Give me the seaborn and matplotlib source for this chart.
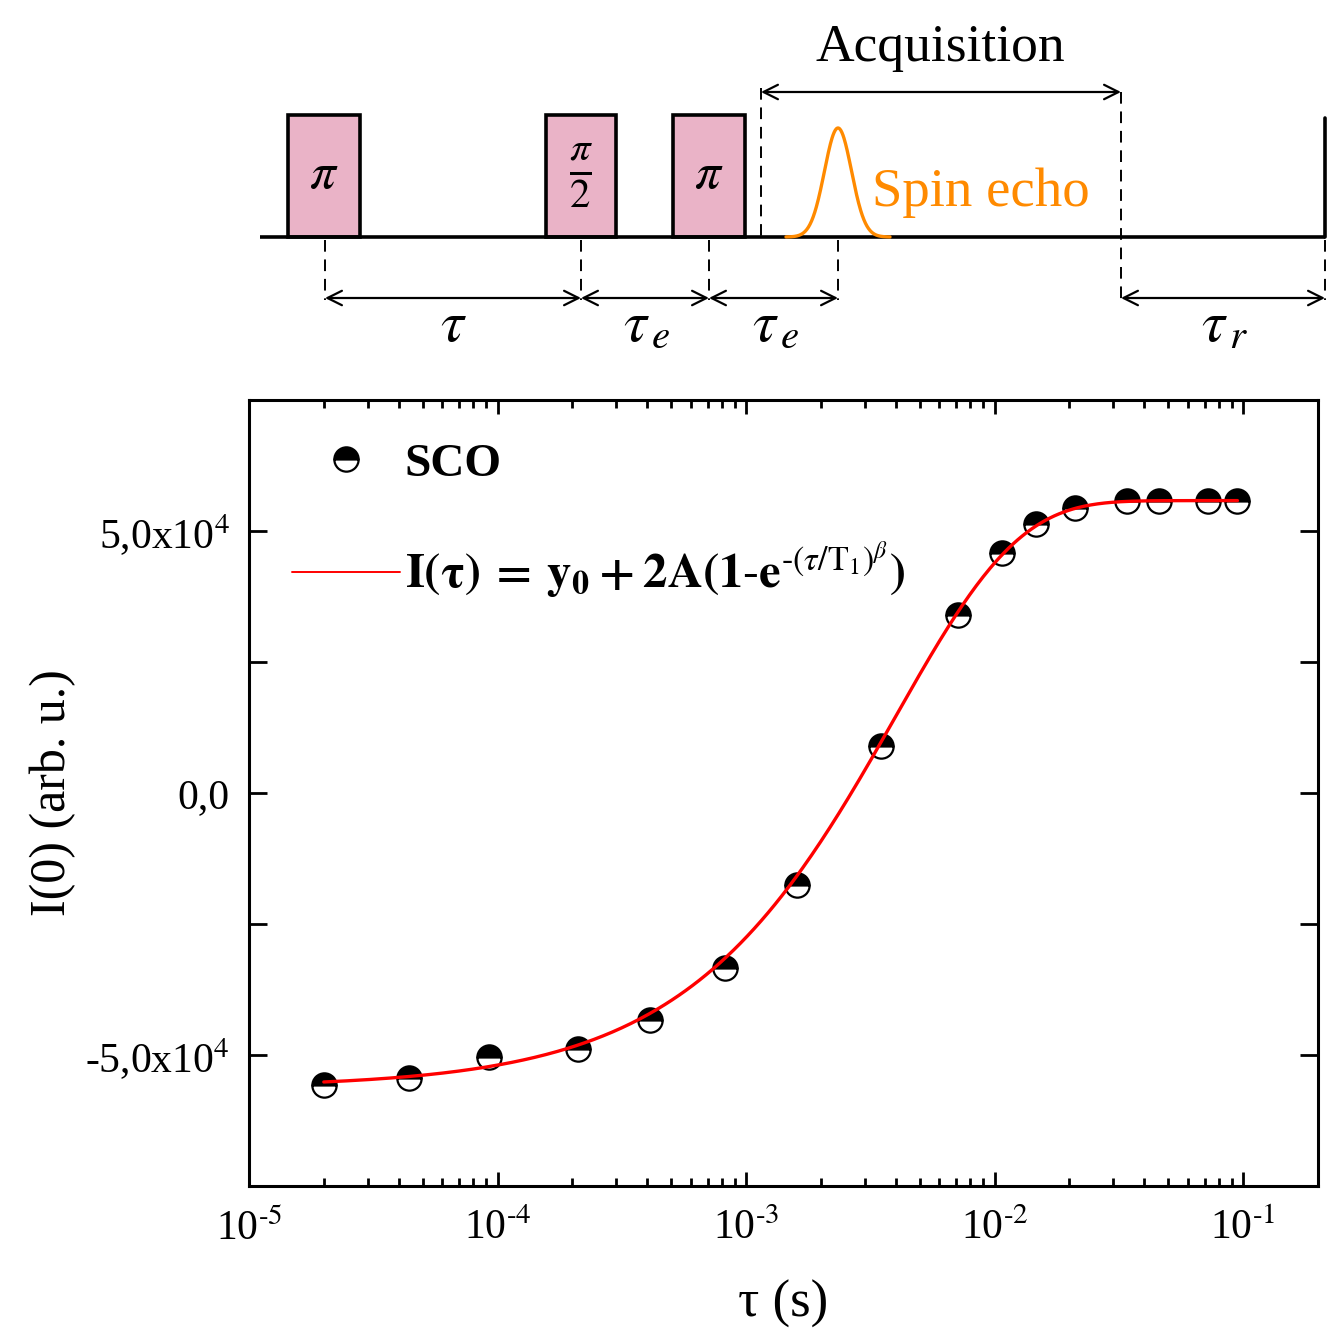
import numpy as np
import pandas as pd
import matplotlib
matplotlib.use("Agg")
import matplotlib.pyplot as plt
from matplotlib.patches import Rectangle
from matplotlib.ticker import FixedLocator, LogLocator, NullFormatter
import seaborn as sns

# ---- measured inversion-recovery data (SCO) ----
tau_s = [2.0e-5, 4.4e-5, 9.2e-5, 2.1e-4, 4.1e-4, 8.2e-4, 1.6e-3, 3.5e-3,
         7.1e-3, 1.07e-2, 1.47e-2, 2.1e-2, 3.4e-2, 4.6e-2, 7.2e-2, 9.5e-2]
intensity = [-55700, -54400, -50400, -48900, -43300, -33400, -17600, 9000,
             34000, 45800, 51300, 54400, 55700, 55700, 55800, 55800]

# ---- stretched-exponential fit parameters ----
fit_y0 = -56200.0
fit_A = 56000.0
fit_T1 = 4.0e-3
fit_beta = 0.88

# ---- axis ticks ----
x_ticks = [1e-5, 1e-4, 1e-3, 1e-2, 1e-1]
x_tick_labels = [r"10$^{\text{-}5}$", r"10$^{\text{-}4}$", r"10$^{\text{-}3}$",
                 r"10$^{\text{-}2}$", r"10$^{\text{-}1}$"]
y_ticks = [-5e4, 0, 5e4]
y_tick_labels = [r"-5,0x10$^{4}$", "0,0", r"5,0x10$^{4}$"]
y_minor_ticks = [-7.5e4, -2.5e4, 2.5e4, 7.5e4]

sns.set_style("ticks")
plt.rcParams["font.family"] = ["Liberation Serif", "DejaVu Serif"]
plt.rcParams["mathtext.fontset"] = "stix"
for key in ["text.color", "axes.labelcolor", "xtick.color", "ytick.color",
            "axes.edgecolor"]:
    plt.rcParams[key] = "black"

fig = plt.figure(figsize=(13.29, 13.30), dpi=100)
W, H = 1329, 1330

# =================== pulse-sequence schematic ===================
sch = fig.add_axes([0, 1 - 370 / H, 1, 370 / H])
sch.set_xlim(0, W)
sch.set_ylim(370, 0)
sch.axis("off")

pink = "#EAB3C7"
orange = "#FF8A00"
base_y = 237
pulse_top = 115
pulse_left = [288, 546, 673]
pulse_right = [360, 616, 745]
pulse_text = [r"$\pi$", r"$\frac{\pi}{2}$", r"$\pi$"]
pulse_mid = [325, 581, 709]
echo_mid = 838
acq_start, acq_end = 761, 1121
next_pulse = 1325

sch.plot([260, next_pulse], [base_y, base_y], color="black", lw=2.6,
         solid_capstyle="butt", zorder=3)
for xl, xr, lab, xm in zip(pulse_left, pulse_right, pulse_text, pulse_mid):
    sch.add_patch(Rectangle((xl, pulse_top), xr - xl, base_y - pulse_top,
                            facecolor=pink, edgecolor="black", lw=2.6, zorder=2))
    sch.text((xl + xr) / 2, 176, lab, ha="center", va="center",
             fontsize=37 if lab != r"$\frac{\pi}{2}$" else 42, zorder=4)
sch.plot([next_pulse, next_pulse], [118, base_y], color="black", lw=2.6)

# spin echo
ex = np.linspace(echo_mid - 52, echo_mid + 52, 200)
ey = base_y - 109 * np.exp(-((ex - echo_mid) ** 2) / (2 * 13.5 ** 2))
sch.plot(ex, ey, color=orange, lw=2.4, zorder=4)
sch.text(872, 193, "Spin echo", color=orange, fontsize=39.5, ha="left",
         va="center")

dash = dict(color="black", lw=1.4, ls=(0, (6, 4)))
sch.plot([acq_start, acq_start], [88, base_y], **dash)
sch.plot([acq_end, acq_end], [92, 300], **dash)
for xm in pulse_mid + [echo_mid, next_pulse]:
    sch.plot([xm, xm], [base_y + 3, 300], **dash)

arrow = dict(arrowstyle="<->", lw=1.6, color="black", mutation_scale=26,
             shrinkA=0, shrinkB=0)
sch.annotate("", xy=(acq_end, 92), xytext=(acq_start, 92), arrowprops=arrow)
sch.text(940, 48, "Acquisition", fontsize=38.5, ha="center", va="center")

spans = [(pulse_mid[0], pulse_mid[1]), (pulse_mid[1], pulse_mid[2]),
         (pulse_mid[2], echo_mid), (acq_end, next_pulse)]
span_labels = [r"$\tau$", r"$\tau_{\,e}$", r"$\tau_{\,e}$", r"$\tau_{\,r}$"]
for (a, b), lab in zip(spans, span_labels):
    sch.annotate("", xy=(b, 298), xytext=(a, 298), arrowprops=arrow)
    sch.text((a + b) / 2 + (2 if lab != r"$\tau$" else 0), 327, lab,
             fontsize=42, ha="center", va="center")

# =================== recovery curve ===================
ax = fig.add_axes([249 / W, 1 - 1186 / H, (1318 - 249) / W, (1186 - 400) / H])

df = pd.DataFrame({"tau": tau_s, "I": intensity})
tau_fit = np.logspace(np.log10(tau_s[0]), np.log10(tau_s[-1]), 400)
fit_df = pd.DataFrame({
    "tau": tau_fit,
    "I": fit_y0 + 2 * fit_A * (1 - np.exp(-(tau_fit / fit_T1) ** fit_beta)),
})

sns.lineplot(data=df, x="tau", y="I", ax=ax, errorbar=None, linestyle="",
             marker="o", markersize=17.5, fillstyle="top",
             markerfacecolor="black", markerfacecoloralt="white",
             markeredgecolor="black", markeredgewidth=1.6, color="black",
             zorder=2)
sns.lineplot(data=fit_df, x="tau", y="I", ax=ax, errorbar=None,
             color="#FF0000", lw=2.4, zorder=3)

ax.set_xscale("log")
ax.set_xlim(1e-5, 10 ** (-5 + (1318 - 249) / 248.5))
ax.set_ylim(-7.5e4, 7.5e4)

ax.xaxis.set_major_locator(FixedLocator(x_ticks))
ax.set_xticklabels(x_tick_labels)
ax.xaxis.set_minor_locator(LogLocator(base=10, subs=np.arange(2, 10)))
ax.xaxis.set_minor_formatter(NullFormatter())
ax.yaxis.set_major_locator(FixedLocator(y_ticks))
ax.set_yticklabels(y_tick_labels)
ax.yaxis.set_minor_locator(FixedLocator(y_minor_ticks))

ax.tick_params(axis="both", which="both", direction="in", top=True,
               right=True, width=2.0, colors="black")
ax.tick_params(axis="x", which="major", length=10, labelsize=30, pad=17)
ax.tick_params(axis="x", which="minor", length=6)
ax.tick_params(axis="y", which="major", length=13, labelsize=30, pad=14)
ax.tick_params(axis="y", which="minor", length=13)
for sp in ax.spines.values():
    sp.set_linewidth(2.2)
    sp.set_color("black")

ax.set_xlabel("τ (s)", fontsize=38, labelpad=22)
ax.set_ylabel("I(0) (arb. u.)", fontsize=36, labelpad=6)

eq = (r"$\mathbf{I(\tau)\:=\:y_0\:+\:2A(1\text{-}e}"
      r"^{\text{-}(\tau/\mathrm{T}_1)^{\beta}}\mathbf{)}$")
handles = [ax.lines[0], ax.lines[1]]
leg = ax.legend(handles=handles, labels=["SCO", eq], loc="upper left",
                frameon=False, prop={"size": 34, "weight": "bold"},
                handlelength=2.3, handletextpad=0.1, labelspacing=1.15)
leg.get_lines()[1].set_linewidth(1.4)
leg.get_texts()[1].set_fontsize(35)

fig.savefig("out.png", dpi=100)
